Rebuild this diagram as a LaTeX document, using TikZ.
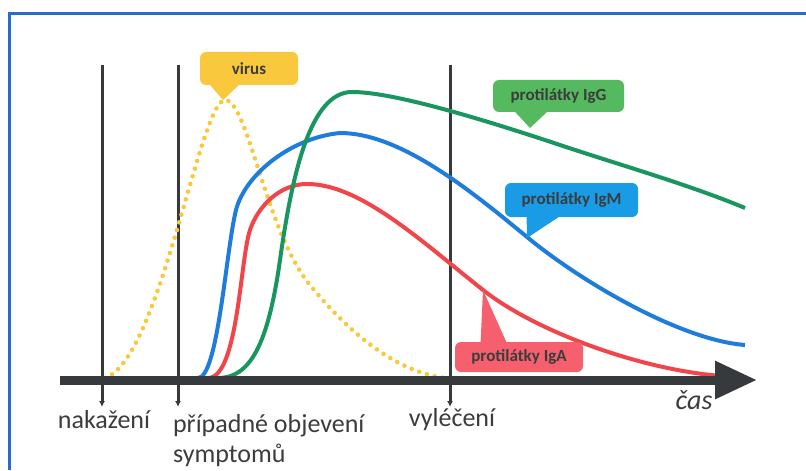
\documentclass[tikz,border=0pt]{standalone}
\usepackage{fontspec}
\setmainfont{Carlito}
\usetikzlibrary{arrows.meta,calc}
\definecolor{rama}{RGB}{40,110,200}
\definecolor{osa}{RGB}{55,58,60}
\definecolor{pismo}{RGB}{60,60,60}
\definecolor{zluta}{RGB}{250,200,60}
\definecolor{modra}{RGB}{30,125,220}
\definecolor{cervena}{RGB}{240,70,75}
\definecolor{zelena}{RGB}{25,150,95}
\definecolor{bzelena}{RGB}{85,185,95}
\definecolor{bmodra}{RGB}{25,155,230}
\definecolor{bcervena}{RGB}{245,95,110}
\tikzset{
  bublina/.style={rounded corners=3pt,inner sep=0pt,text=pismo,
    font=\bfseries\fontsize{8.5}{10}\selectfont},
  krivka/.style={line width=2pt,line join=round},
  popis/.style={text=pismo,font=\fontsize{13}{15}\selectfont},
  mez/.style={line width=1.5pt,osa,-{Latex[length=3pt,width=3pt]}}
}
\begin{document}
\begin{tikzpicture}[x=0.5pt,y=-0.5pt]
	\useasboundingbox (0,0) rectangle (806,470);
	\draw [rama,line width=1.5pt] (806,14) -- (9,14) -- (9,470);
	\coordinate (N1) at (102,65);
	\coordinate (N2) at (102,407);
	\coordinate (S1) at (178,65);
	\coordinate (S2) at (178,407);
	\coordinate (V1) at (450,65);
	\coordinate (V2) at (450,407);
	\coordinate (O1) at (60,380);
	\coordinate (O2) at (757,380);
	\draw [mez] (N1) -- (N2);
	\draw [mez] (S1) -- (S2);
	\draw [mez] (V1) -- (V2);
	% virus
	\draw [zluta,line width=2.3pt,line cap=round,dash pattern=on 0pt off 4pt]
		(105,378) .. controls (160,360) and (200,100) .. (225,100)
		.. controls (248,100) and (265,230) .. (310,285)
		.. controls (355,340) and (400,372) .. (445,378);
	% IgM
	\draw [krivka,modra] (198,378) .. controls (218,378) and (226,250) .. (236,210)
		.. controls (245,175) and (290,138) .. (340,133)
		.. controls (400,133) and (470,190) .. (527,237)
		.. controls (580,281) and (680,340) .. (745,345);
	% IgA
	\draw [krivka,cervena] (208,378) .. controls (238,378) and (240,260) .. (250,230)
		.. controls (258,206) and (280,184) .. (307,184)
		.. controls (360,184) and (420,240) .. (483,290)
		.. controls (540,335) and (660,377) .. (745,377);
	% IgG
	\draw [krivka,zelena] (218,378) .. controls (250,378) and (268,345) .. (280,260)
		.. controls (292,175) and (310,92) .. (352,92)
		.. controls (390,92) and (470,115) .. (560,145)
		.. controls (620,165) and (690,185) .. (745,208);
	\draw [osa,line width=4.5pt,-{Triangle[length=21pt,width=18pt]}] (O1) -- (O2);
	% popisky
	\node [bublina,fill=zluta,minimum width=49pt,minimum height=16.5pt] (vir) at (249,68.5) {virus};
	\fill [zluta] ($(vir.south west)+(10,-1)$) -- (223,100) -- ($(vir.south west)+(40,-1)$) -- cycle;
	\node [bublina,fill=bzelena,minimum width=65.5pt,minimum height=16pt] (igg) at (558.5,96) {protilátky IgG};
	\fill [bzelena] ($(igg.south west)+(22,-1)$) -- (530,128) -- ($(igg.south west)+(55,-1)$) -- cycle;
	\node [bublina,fill=bmodra,minimum width=66.5pt,minimum height=17pt] (igm) at (571.5,200) {protilátky IgM};
	\fill [bmodra] ($(igm.south west)+(22,-1)$) -- (527,238) -- ($(igm.south west)+(55,-1)$) -- cycle;
	\node [bublina,fill=bcervena,minimum width=64pt,minimum height=15pt] (iga) at (519,357) {protilátky IgA};
	\fill [bcervena] ($(iga.north west)+(26,1)$) -- (483,290) -- ($(iga.north west)+(52,1)$) -- cycle;
	\node [popis] (nak) at (104,420) {nakažení};
	\node [popis,anchor=north west,align=left] (sym) at (166,407) {případné objevení\\symptomů};
	\node [popis] (vyl) at (452,420) {vyléčení};
	\node [popis,font=\itshape\fontsize{14}{16}\selectfont] (cas) at (694,400) {čas};
\end{tikzpicture}
\end{document}
